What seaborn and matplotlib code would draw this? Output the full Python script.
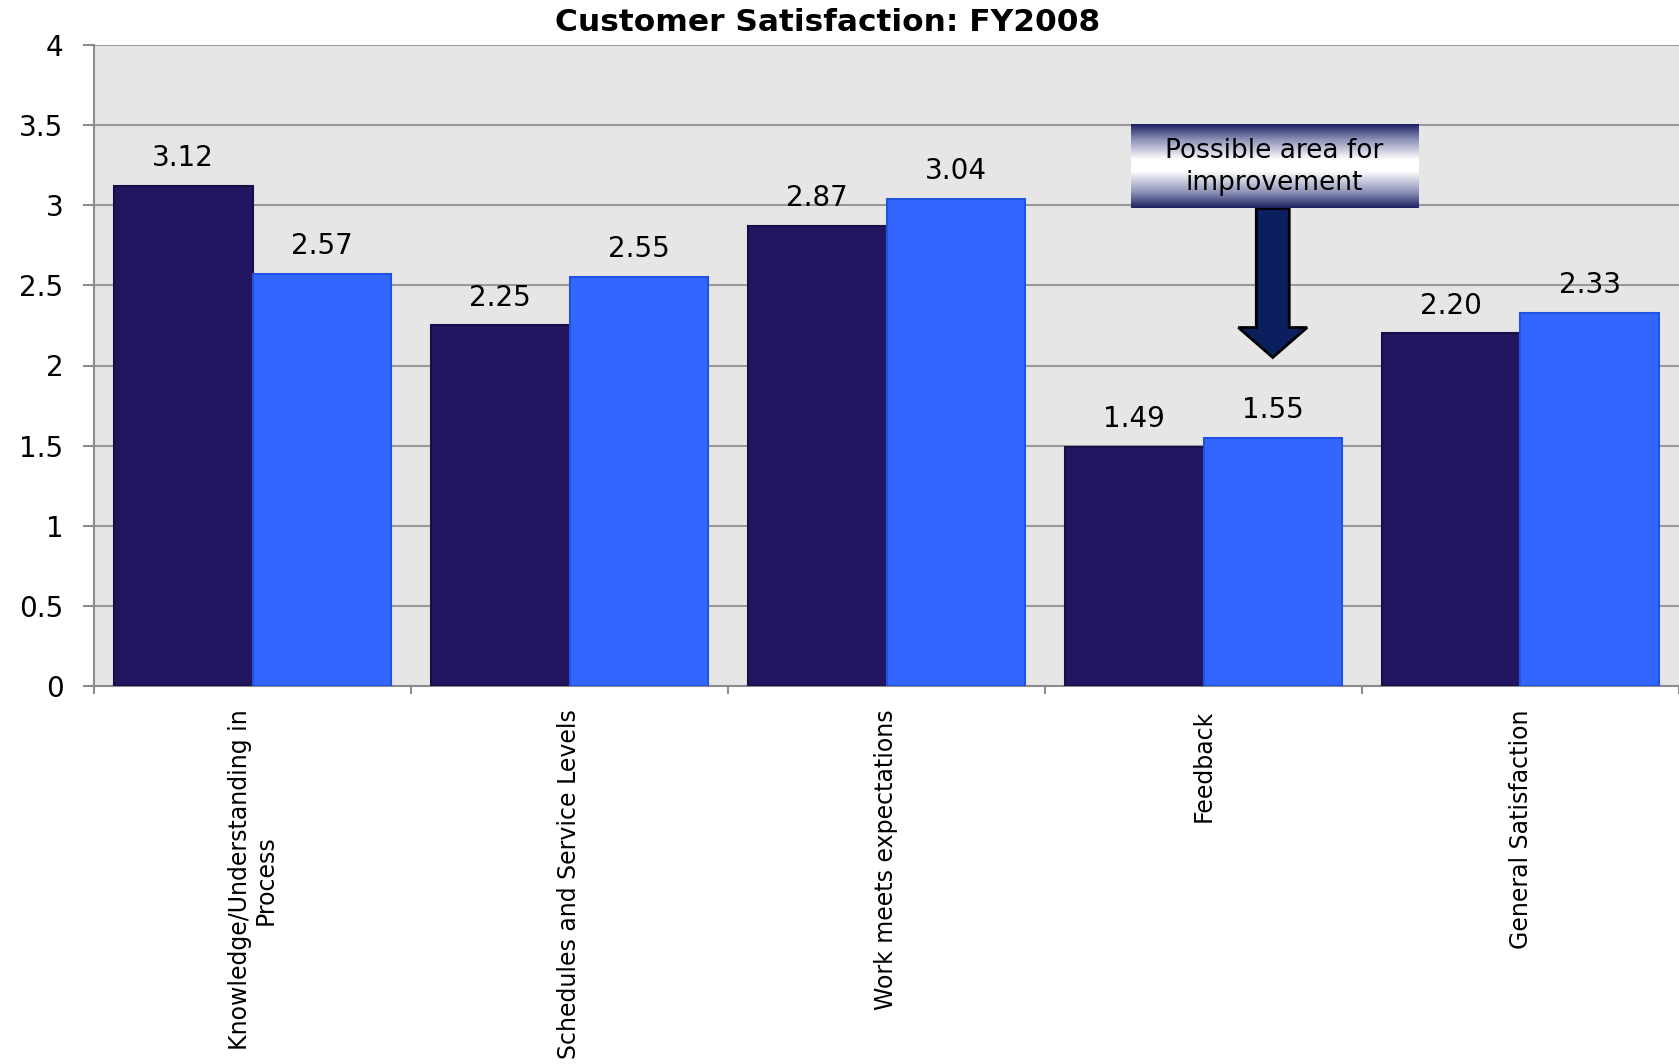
import numpy as np
import pandas as pd
import matplotlib
matplotlib.use("Agg")
import matplotlib.pyplot as plt
import seaborn as sns
from matplotlib.colors import LinearSegmentedColormap
from matplotlib.patches import FancyArrow

# ---- data ----
categories = ["Knowledge/Understanding in\nProcess", "Schedules and Service Levels",
              "Work meets expectations", "Feedback", "General Satisfaction"]
series_names = ["Series 1", "Series 2"]
values_1 = [3.12, 2.25, 2.87, 1.49, 2.20]
values_2 = [2.57, 2.55, 3.04, 1.55, 2.33]
y_ticks = [0, 0.5, 1, 1.5, 2, 2.5, 3, 3.5, 4]
y_tick_labels = ["0", "0.5", "1", "1.5", "2", "2.5", "3", "3.5", "4"]
title = "Customer Satisfaction: FY2008"
note = "Possible area for\nimprovement"
note_category = 3  # Feedback

df = pd.DataFrame({
    "category": categories * 2,
    "series": [series_names[0]] * len(categories) + [series_names[1]] * len(categories),
    "value": values_1 + values_2,
})

sns.set_theme(style="white")
plt.rcParams['font.family'] = ['DejaVu Sans']
plt.rcParams['text.color'] = 'black'

W, H = 1679, 1064
fig = plt.figure(figsize=(W / 100, H / 100), dpi=100)
ax = fig.add_axes([94 / W, 1 - 686 / H, 1 - 94 / W, (686 - 45) / H])
ax.set_facecolor('#E6E6E6')

group_width = 0.874
palette = ['#221660', '#3366FF']
sns.barplot(data=df, x='category', y='value', hue='series', palette=palette,
            width=group_width, saturation=1, ax=ax, legend=False, zorder=3)

edge_cols = ['#160F48', '#2252E0']
for cont, ec in zip(ax.containers, edge_cols):
    for p in cont:
        p.set_edgecolor(ec)
        p.set_linewidth(1.5)
    ax.bar_label(cont, fmt='%.2f', padding=10, fontsize=20, color='black')

ax.set_xlim(-0.5, len(categories) - 0.5)
ax.set_ylim(0, 4)
ax.set_xlabel('')
ax.set_ylabel('')

# y axis
ax.set_yticks(y_ticks)
ax.set_yticklabels(y_tick_labels, fontsize=20, color='black')
ax.tick_params(axis='y', length=8, width=1.5, color='#8C8C8C', pad=14, left=True, direction='out')
ax.yaxis.grid(True, color='#999999', linewidth=1.5)
ax.set_axisbelow(True)

# x axis
ax.set_xticks(range(len(categories)))
ax.set_xticklabels(categories, rotation=90, fontsize=17, va='top', ha='center',
                   linespacing=1.1, color='black')
ax.tick_params(axis='x', which='major', length=0, pad=17)
ax.set_xticks(np.arange(len(categories) + 1) - 0.5, minor=True)
ax.tick_params(axis='x', which='minor', length=6, width=1.5, color='#8C8C8C',
               direction='out', bottom=True)

for s in ['top', 'right']:
    ax.spines[s].set_visible(False)
for s in ['left', 'bottom']:
    ax.spines[s].set_color('#8C8C8C')
    ax.spines[s].set_linewidth(1.5)

# annotation box with gradient
bx0, bx1, by0, by1 = 2.771, 3.678, 2.98, 3.50
cmap = LinearSegmentedColormap.from_list('grad', [
    (0.0, '#1b2060'), (0.18, '#8a8fb6'), (0.42, '#ffffff'),
    (0.56, '#ffffff'), (0.82, '#8a8fb6'), (1.0, '#1b2060')])
grad = np.linspace(0, 1, 256).reshape(-1, 1)
ax.imshow(grad, cmap=cmap, extent=[bx0, bx1, by0, by1], aspect='auto',
          origin='upper', zorder=6, interpolation='bicubic')
ax.text((bx0 + bx1) / 2, (by0 + by1) / 2, note, ha='center', va='center',
        fontsize=19, color='black', zorder=7, linespacing=1.3)

ax_x = note_category + group_width / 4
arrow = FancyArrow(ax_x, by0, 0, -(by0 - 2.05), width=0.104, head_width=0.217,
                   head_length=0.187, length_includes_head=True,
                   facecolor='#0B1F5E', edgecolor='black', linewidth=2, zorder=5)
ax.add_patch(arrow)

ax.set_xlim(-0.5, len(categories) - 0.5)
ax.set_ylim(0, 4)

fig.text(0.493, 0.979, title, ha='center', va='center', fontsize=22.5,
         fontweight='bold', color='black')

fig.savefig('out.png', dpi=100, facecolor='white')
